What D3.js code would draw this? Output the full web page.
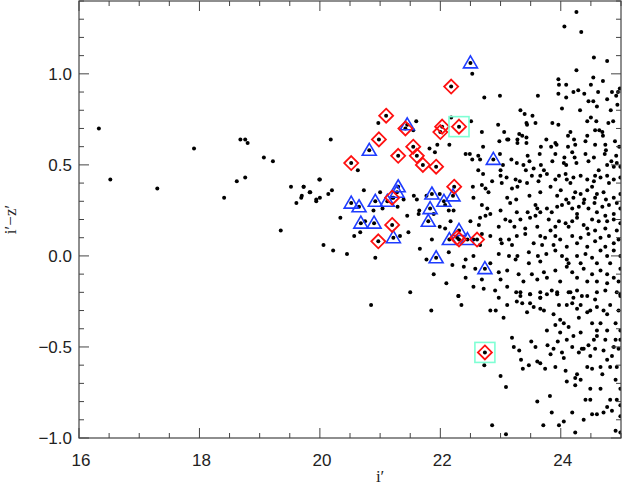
<!DOCTYPE html>
<html><head><meta charset="utf-8">
<script src="https://cdn.jsdelivr.net/npm/d3@7"></script>
<style>body{margin:0;background:#fff}svg{display:block}</style>
</head><body>
<script>
const xTicks = [16,18,20,22,24];
const yTicks = [1.0,0.5,0.0,-0.5,-1.0];
const yTickLabels = ["1.0","0.5","0.0","\u22120.5","\u22121.0"];
// black dots: [i', i'-z']
const dots = [
[16.33,0.70],[16.52,0.42],[17.30,0.37],[17.91,0.59],[18.41,0.32],[18.62,0.41],[18.76,0.43],[18.68,0.64],[18.76,0.64],[18.80,0.62],[19.07,0.54],[19.22,0.52],[19.35,0.14],[19.52,0.38],[19.61,0.29],[19.69,0.32],[19.73,0.38],[19.83,0.35],[19.94,0.30],[19.99,0.42],[20.00,0.32],
[20.18,0.64],[20.97,0.73],[21.60,0.74],[21.55,0.69],[20.63,0.47],[21.82,0.59],[21.91,0.57],[21.95,0.61],
[19.73,0.38],[19.84,0.35],[20.00,0.42],[20.14,0.34],[20.20,0.36],[19.94,0.31],[19.70,0.33],[20.73,0.36],[21.00,0.35],[21.22,0.32],[21.39,0.31],[21.56,0.33],[21.61,0.31],[21.77,0.33],[21.99,0.34],[20.34,0.21],[20.89,0.25],[21.04,0.26],[21.29,0.27],[21.45,0.22],[21.64,0.23],[21.65,0.25],[21.89,0.23],[20.57,0.11],[20.75,0.19],[20.67,0.13],[21.33,0.11],[21.47,0.13],[21.86,0.09],[21.99,0.16],[20.06,0.06],[20.22,0.03],[20.45,0.01],[20.92,-0.01],[21.66,0.04],[21.77,-0.02],[21.89,-0.10],
[20.85,-0.27],[21.5,-0.2],[21.85,-0.3],[22.1,-0.15],[22.2,-0.05],
[24.26,1.34],[24.06,1.26],[24.34,1.23],[24.55,1.09],[24.77,1.07],[24.26,1.02],[23.96,0.97],[24.09,0.94],[24.54,0.98],[24.70,0.96],[24.50,0.94],[23.97,0.94],[24.21,0.90],[24.29,0.91],[24.39,0.89],[24.62,0.90],[24.85,0.90],[24.95,0.90],[24.98,0.92],[23.96,0.89],[24.09,0.87],[23.62,0.88],[24.46,0.85],[24.54,0.85],[24.77,0.86],[24.92,0.88],[24.60,0.82],[24.83,0.80],[24.02,0.81],[24.32,0.80],[24.94,0.83],[23.33,0.80],[23.40,0.78],[23.53,0.77],[24.50,0.76],[24.44,0.74],[24.59,0.74],[24.87,0.74],[24.79,0.73],[23.58,0.73],[23.43,0.73],[23.44,0.72],[23.86,0.73],[23.96,0.72],[22.96,0.72],[22.73,0.87],[22.99,0.88],[22.53,1.00],[22.51,0.74],[22.69,0.68],[23.06,0.68],[23.31,0.67],[23.36,0.66],[23.11,0.64],[23.13,0.64],[23.28,0.64],[23.43,0.65],[23.28,0.62],[23.43,0.62],[23.76,0.64],[23.91,0.62],[23.93,0.61],[24.16,0.68],[24.12,0.66],[24.22,0.64],[24.44,0.66],[24.57,0.69],[24.64,0.69],[24.69,0.68],[24.70,0.66],[24.41,0.63],[24.57,0.61],[24.74,0.61],[24.90,0.63],[24.97,0.60],[22.98,0.63],[22.71,0.60],[23.67,0.60],[23.84,0.60],[24.12,0.60],[24.24,0.61],[22.15,0.61],[22.18,0.76],
[22.42,0.56],[22.49,0.56],[22.63,0.55],[22.99,0.56],[23.18,0.53],[23.45,0.55],[23.65,0.56],[23.91,0.56],[24.06,0.54],[24.19,0.57],[24.23,0.54],[24.41,0.56],[24.55,0.54],[24.73,0.56],[24.92,0.55],[24.75,0.58],
[22.53,0.53],[22.66,0.53],[23.04,0.50],[23.27,0.51],[23.38,0.50],[23.48,0.52],[23.55,0.48],[23.67,0.50],[23.72,0.47],[23.86,0.52],[24.05,0.51],[24.09,0.50],[24.26,0.51],[24.46,0.52],[24.63,0.47],[24.77,0.50],[24.84,0.52],[24.88,0.49],[24.93,0.51],[24.99,0.49],[23.42,0.47],[23.00,0.47],[22.63,0.47],[22.71,0.45],
[23.00,0.44],[23.10,0.43],[23.25,0.42],[23.32,0.41],[23.52,0.44],[23.66,0.44],[23.77,0.45],[23.91,0.42],[23.97,0.44],[24.08,0.45],[24.10,0.42],[24.21,0.43],[24.33,0.44],[24.44,0.42],[24.57,0.44],[24.66,0.43],[24.77,0.44],[24.88,0.42],[24.99,0.43],[22.86,0.41],[23.02,0.40],[22.69,0.39],[22.54,0.38],[23.44,0.40],[23.63,0.41],[24.16,0.40],[24.55,0.41],[24.80,0.40],
[22.75,0.37],[22.80,0.35],[23.19,0.37],[23.28,0.38],[23.66,0.35],[23.83,0.38],[23.94,0.33],[24.00,0.36],[24.24,0.35],[24.33,0.34],[24.44,0.36],[24.52,0.38],[24.60,0.34],[24.71,0.35],[24.75,0.31],[24.88,0.32],[24.99,0.34],[23.48,0.33],[23.11,0.32],[22.55,0.32],[23.26,0.31],[24.09,0.31],[24.21,0.32],[24.39,0.31],[24.57,0.32],
[22.08,0.28],[22.69,0.28],[23.16,0.29],[23.58,0.28],[23.61,0.26],[23.77,0.26],[23.85,0.24],[23.94,0.27],[24.02,0.28],[24.13,0.29],[24.19,0.26],[24.30,0.27],[24.38,0.29],[24.46,0.26],[24.56,0.29],[24.69,0.27],[24.80,0.28],[24.93,0.29],[24.99,0.26],[22.14,0.25],[22.22,0.25],[22.78,0.26],[22.83,0.23],[23.00,0.25],[23.27,0.24],[23.45,0.24],[23.66,0.24],[24.27,0.23],[24.60,0.24],[24.74,0.22],[24.88,0.23],
[22.66,0.21],[22.75,0.22],[23.08,0.20],[23.16,0.19],[23.33,0.20],[23.49,0.21],[23.58,0.22],[23.80,0.20],[23.97,0.19],[24.08,0.18],[24.19,0.19],[24.27,0.21],[24.38,0.17],[24.52,0.20],[24.63,0.19],[24.77,0.19],[24.88,0.20],[24.99,0.18],[22.50,0.19],[22.64,0.17],[22.97,0.16],[23.23,0.16],[23.41,0.15],[23.61,0.16],[23.83,0.14],[23.91,0.16],[24.13,0.16],[24.44,0.15],[24.57,0.14],[24.74,0.15],[24.93,0.14],[22.17,0.19],[22.08,0.15],
[22.69,0.12],[22.83,0.11],[23.00,0.09],[23.14,0.09],[23.27,0.11],[23.41,0.12],[23.66,0.11],[23.74,0.10],[23.91,0.11],[23.99,0.09],[24.19,0.11],[24.33,0.10],[24.46,0.12],[24.57,0.08],[24.66,0.10],[24.80,0.11],[24.88,0.07],[22.55,0.09],[22.66,0.06],[23.02,0.07],[23.19,0.06],[23.55,0.07],[23.69,0.06],[23.88,0.06],[24.10,0.05],[24.27,0.07],[24.44,0.05],[24.74,0.05],[24.96,0.09],
[22.14,0.02],[22.55,0.00],[22.97,0.01],[23.14,0.00],[23.28,0.00],[23.47,0.02],[23.62,0.00],[23.76,0.01],[23.91,0.03],[24.02,0.00],[24.10,-0.02],[24.27,0.00],[24.41,0.01],[24.52,-0.01],[24.66,0.03],[24.77,0.00],[24.88,0.03],[24.99,0.00],[22.42,-0.02],[22.83,-0.04],[23.25,-0.02],[23.47,-0.04],[23.66,-0.03],[24.13,-0.04],[24.33,-0.04],[24.60,-0.04],[24.82,-0.04],
[22.39,-0.06],[22.58,-0.07],[22.97,-0.09],[23.11,-0.08],[23.30,-0.10],[23.52,-0.10],[23.72,-0.09],[23.91,-0.08],[24.10,-0.06],[24.19,-0.09],[24.38,-0.07],[24.52,-0.10],[24.66,-0.08],[24.77,-0.10],[24.88,-0.12],[24.99,-0.07],[22.42,-0.12],[23.00,-0.13],[22.69,-0.13],[23.38,-0.14],[23.61,-0.13],[23.77,-0.12],[23.99,-0.14],[24.27,-0.12],[24.44,-0.14],[24.60,-0.14],[24.77,-0.15],[24.96,-0.14],
[22.55,-0.17],[22.72,-0.18],[22.91,-0.19],[23.11,-0.17],[23.33,-0.20],[23.49,-0.21],[23.66,-0.20],[23.85,-0.19],[23.94,-0.21],[24.16,-0.20],[24.27,-0.19],[24.44,-0.22],[24.60,-0.20],[24.74,-0.19],[24.93,-0.20],[24.99,-0.22],[22.30,-0.22],[22.97,-0.23],[23.66,-0.23],[24.21,-0.23],
[22.30,-0.22],[22.35,-0.27],[22.83,-0.30],[22.92,-0.30],[23.05,-0.34],[23.11,-0.27],[23.19,-0.45],[23.22,-0.50],[23.31,-0.52],[23.34,-0.57],[23.37,-0.62],[23.47,-0.60],[23.51,-0.47],[23.58,-0.50],[23.61,-0.58],[23.66,-0.59],[23.74,-0.62],[23.77,-0.41],[23.82,-0.77],[23.78,-0.49],[23.88,-0.51],[23.91,-0.61],[23.83,-0.54],[23.95,-0.47],[23.99,-0.42],[24.02,-0.53],[24.05,-0.56],[24.08,-0.63],[24.10,-0.46],[24.13,-0.39],[24.19,-0.50],[24.21,-0.44],[24.24,-0.67],[24.27,-0.65],[24.30,-0.53],[24.33,-0.42],[24.35,-0.51],[24.38,-0.51],[24.44,-0.61],[24.46,-0.49],[24.49,-0.55],[24.52,-0.62],[24.55,-0.46],[24.57,-0.51],[24.60,-0.44],[24.66,-0.61],[24.69,-0.65],[24.71,-0.52],[24.74,-0.46],[24.77,-0.57],[24.82,-0.61],[24.85,-0.55],[24.88,-0.50],[24.91,-0.46],[24.93,-0.61],[24.96,-0.51],[24.99,-0.41],[24.99,-0.46],
[23.00,-0.66],[23.09,-0.72],[23.61,-0.80],[23.85,-0.86],[23.97,-0.93],[24.05,-0.91],[24.19,-0.86],[24.38,-0.90],[24.52,-0.87],[24.60,-0.87],[24.71,-0.86],[24.77,-0.83],[24.85,-0.85],[24.93,-0.79],[24.99,-0.82],[24.99,-0.88],[24.49,-0.73],[24.66,-0.73],[24.82,-0.79],[24.41,-0.79],[24.49,-0.79],[24.24,-0.71],[24.10,-0.69],[24.33,-0.68],[24.91,-0.68],[24.99,-0.73],
[23.33,-0.22],[23.36,-0.26],[23.44,-0.31],[23.49,-0.21],[23.55,-0.28],[23.66,-0.23],[23.72,-0.30],[23.77,-0.21],[23.88,-0.32],[23.94,-0.20],[23.99,-0.35],[24.05,-0.37],[24.10,-0.27],[24.19,-0.26],[24.27,-0.29],[24.30,-0.34],[24.35,-0.22],[24.44,-0.31],[24.49,-0.30],[24.52,-0.37],[24.57,-0.24],[24.60,-0.28],[24.71,-0.30],[24.77,-0.32],[24.82,-0.27],[24.91,-0.37],[24.96,-0.30],[24.99,-0.21],[23.26,-0.20],[23.49,-0.26],[23.66,-0.29],[23.97,-0.27],[24.13,-0.20],[24.33,-0.27],[24.66,-0.37],[24.77,-0.41],[23.91,-0.38],[24.60,-0.41],[23.27,-0.25],
[22.86,-0.93],[23.09,-0.98],[22.73,-0.60],[24.91,-0.96],[24.99,-0.97],[23.71,-0.93],[24.24,-0.97],
[22.50,1.06],[21.45,0.72],[20.82,0.58],[21.30,0.38],[21.28,0.35],[21.86,0.34],[22.06,0.30],[22.21,0.33],[20.52,0.29],[20.65,0.27],[20.92,0.30],[21.12,0.30],[21.83,0.26],[20.68,0.18],[20.90,0.18],[21.80,0.19],[21.22,0.10],[22.15,0.09],[22.31,0.14],[22.45,0.09],[21.93,-0.01],[22.74,-0.07],[22.88,0.53],
[22.18,0.93],[21.10,0.77],[20.98,0.64],[20.52,0.51],[21.30,0.55],[21.42,0.70],[22.03,0.71],[22.00,0.68],[22.31,0.71],[21.55,0.60],[21.61,0.55],[21.71,0.50],[21.93,0.49],[22.23,0.38],[21.20,0.32],[21.20,0.17],[20.97,0.08],[22.31,0.09],[22.61,0.09],[22.28,0.10],[22.74,-0.53]
];
const triangles = [[22.50,1.06],[21.45,0.72],[20.82,0.58],[21.30,0.38],[21.28,0.35],[21.86,0.34],[22.06,0.30],[22.21,0.33],[20.52,0.29],[20.65,0.27],[20.92,0.30],[21.12,0.30],[21.83,0.26],[20.68,0.18],[20.90,0.18],[21.80,0.19],[21.22,0.10],[22.15,0.09],[22.31,0.14],[22.45,0.09],[21.93,-0.01],[22.74,-0.07],[22.88,0.53]];
const diamonds = [[22.18,0.93],[21.10,0.77],[20.98,0.64],[20.52,0.51],[21.30,0.55],[21.42,0.70],[22.03,0.71],[22.00,0.68],[22.31,0.71],[21.55,0.60],[21.61,0.55],[21.71,0.50],[21.93,0.49],[22.23,0.38],[21.20,0.32],[21.20,0.17],[20.97,0.08],[22.31,0.09],[22.61,0.09],[22.28,0.10],[22.74,-0.53]];
const squares = [[22.31,0.71],[22.74,-0.53]];

const W=623,H=486;
const L=79,R=621,T=1,B=438;
const x=d3.scaleLinear().domain([16,25]).range([L,R]);
const y=d3.scaleLinear().domain([-1.0,1.4]).range([B,T]);
const svg=d3.select("body").append("svg").attr("width",W).attr("height",H);
const ax="#444", font="'Liberation Serif', serif", tfont="'Liberation Sans', sans-serif";
svg.append("clipPath").attr("id","c").append("rect").attr("x",L).attr("y",T).attr("width",R-L).attr("height",B-T);
const g=svg.append("g").attr("clip-path","url(#c)");
g.selectAll("circle.d").data(dots).join("circle").attr("cx",d=>x(d[0])).attr("cy",d=>y(d[1])).attr("r",2).attr("fill","#000");
g.selectAll("path.t").data(triangles).join("path")
 .attr("d",d=>{const cx=x(d[0]),cy=y(d[1]);return `M${cx},${cy-7}L${cx+7},${cy+5}L${cx-7},${cy+5}Z`;})
 .attr("fill","none").attr("stroke","#1e3cff").attr("stroke-width",1.6);
g.selectAll("path.dm").data(diamonds).join("path")
 .attr("d",d=>{const cx=x(d[0]),cy=y(d[1]);return `M${cx},${cy-7}L${cx+7},${cy}L${cx},${cy+7}L${cx-7},${cy}Z`;})
 .attr("fill","none").attr("stroke","#ff1010").attr("stroke-width",1.8);
g.selectAll("rect.s").data(squares).join("rect")
 .attr("x",d=>x(d[0])-10).attr("y",d=>y(d[1])-10).attr("width",20).attr("height",20)
 .attr("fill","none").attr("stroke","#7fffd4").attr("stroke-width",1.6);
svg.append("rect").attr("x",L).attr("y",T).attr("width",R-L).attr("height",B-T).attr("fill","none").attr("stroke",ax).attr("stroke-width",1.2);
const xMinor=d3.range(16,25.01,0.5);
xMinor.forEach(v=>{const major=xTicks.includes(v);const len=major?10:5;
 svg.append("line").attr("x1",x(v)).attr("x2",x(v)).attr("y1",B).attr("y2",B-len).attr("stroke",ax);
 svg.append("line").attr("x1",x(v)).attr("x2",x(v)).attr("y1",T).attr("y2",T+len).attr("stroke",ax);});
const yMinor=d3.range(-10,14.01,1).map(v=>+(v/10).toFixed(1));
yMinor.forEach(v=>{const major=Math.abs(v*2-Math.round(v*2))<1e-6;const len=major?10:5;
 svg.append("line").attr("y1",y(v)).attr("y2",y(v)).attr("x1",L).attr("x2",L+len).attr("stroke",ax);
 svg.append("line").attr("y1",y(v)).attr("y2",y(v)).attr("x1",R).attr("x2",R-len).attr("stroke",ax);});
svg.selectAll("text.xl").data(xTicks).join("text").attr("x",d=>x(d)+2).attr("y",B+28).attr("text-anchor","middle")
 .attr("font-family",tfont).attr("font-size",17).attr("fill","#222").text(d=>d);
svg.selectAll("text.yl").data(yTicks).join("text").attr("x",L-7).attr("y",d=>y(d)+6).attr("text-anchor","end")
 .attr("font-family",tfont).attr("font-size",17).attr("fill","#222").text((d,i)=>yTickLabels[i]);
svg.append("text").attr("x",(x(20)+x(22))/2).attr("y",B+44).attr("text-anchor","middle").attr("font-family",font).attr("font-size",17).attr("fill","#222").text("i\u2032");
svg.append("text").attr("transform",`translate(16,${y(0.2)}) rotate(-90)`).attr("text-anchor","middle").attr("font-family",font).attr("font-size",17).attr("fill","#222").text("i\u2032\u2212z\u2032");
</script></body></html>
